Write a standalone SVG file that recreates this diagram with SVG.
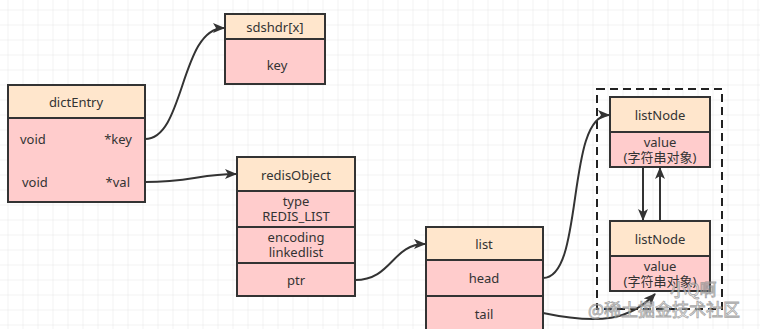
<svg xmlns="http://www.w3.org/2000/svg" width="760" height="329" viewBox="0 0 760 329">
<defs>
<pattern id="grid" x="7.5" y="9.5" width="15" height="15" patternUnits="userSpaceOnUse">
<path d="M15 0 L0 0 L0 15" fill="none" stroke="#e6e6e6" stroke-width="1"/>
</pattern>
<marker id="arr" viewBox="0 0 12 10" refX="11" refY="5" markerWidth="12" markerHeight="10" markerUnits="userSpaceOnUse" orient="auto">
<path d="M0 0 L12 5 L0 10 L3 5 Z" fill="#333"/>
</marker>
<style>
.hd{fill:#ffe6cc;stroke:#333;stroke-width:2}
.bd{fill:#ffcccc;stroke:#333;stroke-width:2}
.t{font-family:"Noto Sans","Noto Sans CJK SC",sans-serif;font-size:13px;fill:#333;text-anchor:middle}
.l{text-anchor:start}
.r{text-anchor:end}
.c{fill:none;stroke:#333;stroke-width:2}
.wm{font-family:"Noto Sans CJK SC",sans-serif;font-size:17px;fill:#fff;stroke:#888;stroke-width:0.8;opacity:0.75}
</style>
</defs>
<rect width="760" height="329" fill="#fff"/>
<rect width="760" height="329" fill="url(#grid)"/>

<rect x="597" y="89" width="125" height="220" fill="none" stroke="#222" stroke-width="2" stroke-dasharray="8 5"/>

<g id="sdshdr">
<rect class="bd" x="225" y="39" width="100" height="45"/>
<rect class="hd" x="225" y="14" width="100" height="25"/>
<text class="t" x="275" y="32">sdshdr[x]</text>
<text class="t" x="277" y="70">key</text>
</g>

<g id="dictEntry">
<rect class="bd" x="8" y="118" width="137" height="84"/>
<rect class="hd" x="8" y="85" width="137" height="33"/>
<text class="t" x="76" y="107">dictEntry</text>
<text class="t l" x="20" y="144">void</text>
<text class="t r" x="132" y="144">*key</text>
<text class="t l" x="22" y="187">void</text>
<text class="t r" x="130" y="187">*val</text>
</g>

<g id="redisObject">
<rect class="hd" x="237" y="157" width="118" height="34"/>
<rect class="bd" x="237" y="191" width="118" height="36"/>
<rect class="bd" x="237" y="227" width="118" height="36"/>
<rect class="bd" x="237" y="263" width="118" height="33"/>
<text class="t" x="296" y="180">redisObject</text>
<text class="t" x="296" y="206">type</text>
<text class="t" x="296" y="221">REDIS_LIST</text>
<text class="t" x="296" y="242">encoding</text>
<text class="t" x="296" y="257">linkedlist</text>
<text class="t" x="296" y="285">ptr</text>
</g>

<g id="list">
<rect class="hd" x="426" y="227" width="117" height="33"/>
<rect class="bd" x="426" y="260" width="117" height="36"/>
<rect class="bd" x="426" y="296" width="117" height="40"/>
<text class="t" x="484" y="249">list</text>
<text class="t" x="484" y="283">head</text>
<text class="t" x="484" y="319">tail</text>
</g>

<g id="listNode1">
<rect class="hd" x="610" y="97" width="100" height="35"/>
<rect class="bd" x="610" y="132" width="100" height="35"/>
<text class="t" x="660" y="120">listNode</text>
<text class="t" x="660" y="147">value</text>
<text class="t" x="660" y="162">(字符串对象)</text>
</g>

<g id="listNode2">
<rect class="hd" x="610" y="221" width="100" height="35"/>
<rect class="bd" x="610" y="256" width="100" height="35"/>
<text class="t" x="660" y="244">listNode</text>
<text class="t" x="660" y="271">value</text>
<text class="t" x="660" y="286">(字符串对象)</text>
</g>

<g id="connectors">
<path class="c" d="M145 139 C185 139 180 28 224 28" marker-end="url(#arr)"/>
<path class="c" d="M145 182 C190 182 200 174 236 174" marker-end="url(#arr)"/>
<path class="c" d="M355 280 C392 280 392 244 425 244" marker-end="url(#arr)"/>
<path class="c" d="M543 278 C585 278 565 115 609 115" marker-end="url(#arr)"/>
<path class="c" d="M543 313 C600 325 630 320 655 294" marker-end="url(#arr)"/>
<path class="c" d="M643 167 L643 220" marker-end="url(#arr)"/>
<path class="c" d="M660 221 L660 168" marker-end="url(#arr)"/>
</g>

<text class="wm" x="670" y="296">小Q啊</text>
<text class="wm" x="588" y="316">@稀土掘金技术社区</text>
</svg>
